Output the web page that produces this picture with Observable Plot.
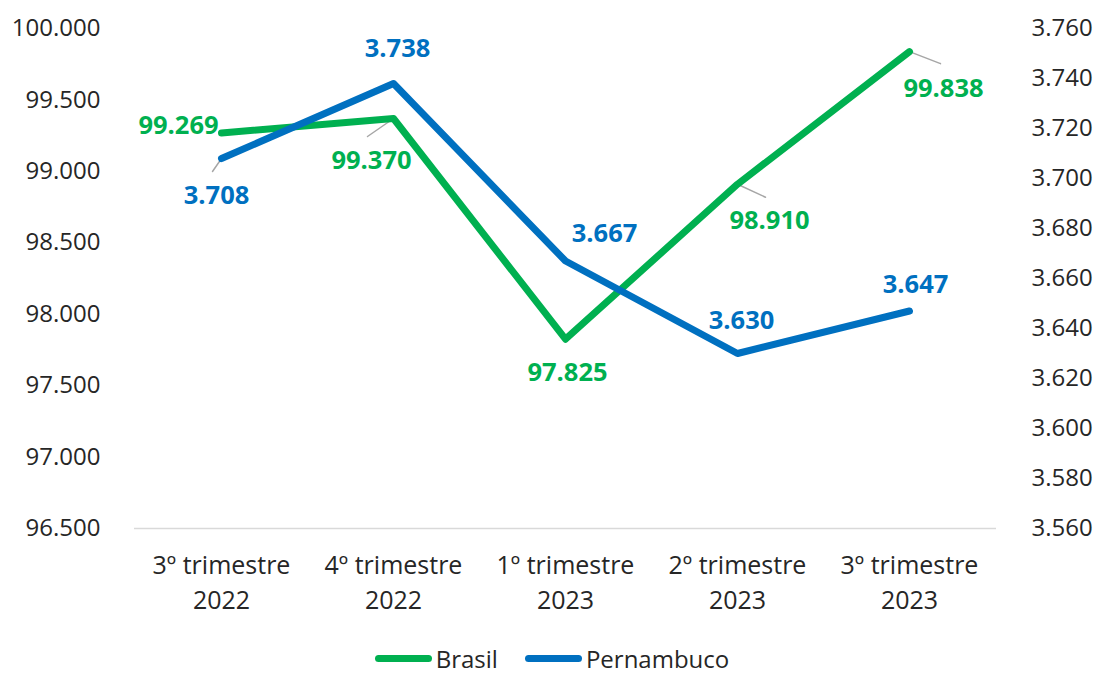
<!DOCTYPE html>
<html>
<head>
<meta charset="utf-8">
<script src="https://cdn.jsdelivr.net/npm/d3@7"></script>
<script src="https://cdn.jsdelivr.net/npm/@observablehq/plot@0.6"></script>
<style>
  html, body { margin: 0; padding: 0; background: #fff; }
  body { width: 1098px; height: 673px; overflow: hidden; font-family: "Open Sans", sans-serif; }
  #legend { box-sizing: border-box; height: 43px; padding-top: 14px; line-height: 24px; display: flex; justify-content: center; align-items: center; font-size: 24px; color: #262626; padding-left: 6px; }
  .item { display: flex; align-items: center; height: 24px; }
  .sw { width: 57px; height: 7px; border-radius: 4px; margin-right: 4px; }
  .gap { width: 27px; }
</style>
</head>
<body>
<div id="chart"></div>
<div id="legend"></div>
<script>
const categories = ["3º trimestre\n2022", "4º trimestre\n2022", "1º trimestre\n2023", "2º trimestre\n2023", "3º trimestre\n2023"];
const brasil = [99.269, 99.370, 97.825, 98.910, 99.838];
const pernambuco = [3.708, 3.738, 3.667, 3.630, 3.647];
const leftTicks = [96.5, 97, 97.5, 98, 98.5, 99, 99.5, 100];
const rightTicks = [3.56, 3.58, 3.60, 3.62, 3.64, 3.66, 3.68, 3.70, 3.72, 3.74, 3.76];
const leftDomain = [96.5, 100];
const rightDomain = [3.56, 3.76];

const GREEN = "#00B050", BLUE = "#0070C0";

// map right-axis values onto the left-axis scale
const toLeft = v => leftDomain[0] + (v - rightDomain[0]) * (leftDomain[1] - leftDomain[0]) / (rightDomain[1] - rightDomain[0]);
const fromLeft = v => rightDomain[0] + (v - leftDomain[0]) * (rightDomain[1] - rightDomain[0]) / (leftDomain[1] - leftDomain[0]);

const fmt = v => v.toFixed(3);

const brasilData = categories.map((c, i) => ({cat: c, value: brasil[i], y: brasil[i]}));
const pernData = categories.map((c, i) => ({cat: c, value: pernambuco[i], y: toLeft(pernambuco[i])}));

// label placement (pixel offsets from point)
const brasilLabelOffsets = [[-43, -7], [-22, 42], [2, 34], [32, 37], [34, 37]];
const pernLabelOffsets = [[-5, 37], [4, -35], [39, -27], [4, -33], [6, -26]];
// leader lines: [series, index, dx, dy]
const leaders = [["b", 1, -26, 18], ["b", 3, 28, 13], ["b", 4, 31, 12], ["p", 0, -9, 13]];

const labelMarks = [];
brasilData.forEach((d, i) => {
  labelMarks.push(Plot.text([d], {x: "cat", y: "y", text: dd => fmt(dd.value), dx: brasilLabelOffsets[i][0], dy: brasilLabelOffsets[i][1],
    fill: GREEN, fontWeight: "bold", fontSize: 25.5, fontFamily: "Open Sans"}));
});
pernData.forEach((d, i) => {
  labelMarks.push(Plot.text([d], {x: "cat", y: "y", text: dd => fmt(dd.value), dx: pernLabelOffsets[i][0], dy: pernLabelOffsets[i][1],
    fill: BLUE, fontWeight: "bold", fontSize: 25.5, fontFamily: "Open Sans"}));
});
const leaderMarks = leaders.map(([s, i, dx, dy]) => {
  const d = s === "b" ? brasilData[i] : pernData[i];
  return Plot.vector([d], {x: "cat", y: "y", anchor: "start", length: Math.hypot(dx, dy),
    rotate: Math.atan2(dx, -dy) * 180 / Math.PI, r: 0, stroke: "#a6a6a6", strokeWidth: 1.5});
});

const chart = Plot.plot({
  width: 1098,
  height: 630,
  marginLeft: 134,
  marginRight: 102,
  marginTop: 28,
  marginBottom: 102,
  style: {fontFamily: "Open Sans", fontSize: "24px", color: "#262626", background: "#fff"},
  x: {type: "point", domain: categories, padding: 0.5, label: null},
  y: {domain: leftDomain, label: null},
  length: {domain: [0, 100], range: [0, 100]},
  marks: [
    Plot.ruleY([leftDomain[0]], {stroke: "#d9d9d9", strokeWidth: 1.5}),
    Plot.axisY(leftTicks, {anchor: "left", tickSize: 0, tickPadding: 34, tickFormat: fmt, label: null, fontSize: 24}),
    Plot.axisY(rightTicks.map(toLeft), {anchor: "right", tickSize: 0, tickPadding: 35, tickFormat: v => fmt(fromLeft(v)), label: null, fontSize: 24}),
    Plot.axisX({tickSize: 0, tickPadding: 21, label: null, fontSize: 25, lineHeight: 1.4}),
    ...leaderMarks,
    Plot.line(brasilData, {x: "cat", y: "y", stroke: GREEN, strokeWidth: 7, strokeLinecap: "round", strokeLinejoin: "round"}),
    Plot.line(pernData, {x: "cat", y: "y", stroke: BLUE, strokeWidth: 7, strokeLinecap: "round", strokeLinejoin: "round"}),
    ...labelMarks
  ]
});
document.getElementById("chart").appendChild(chart);

const legend = document.getElementById("legend");
[["Brasil", GREEN], ["Pernambuco", BLUE]].forEach(([name, color], i) => {
  if (i > 0) { const g = document.createElement("div"); g.className = "gap"; legend.appendChild(g); }
  const it = document.createElement("div"); it.className = "item";
  it.innerHTML = `<div class="sw" style="background:${color}"></div><span>${name}</span>`;
  legend.appendChild(it);
});
</script>
</body>
</html>
